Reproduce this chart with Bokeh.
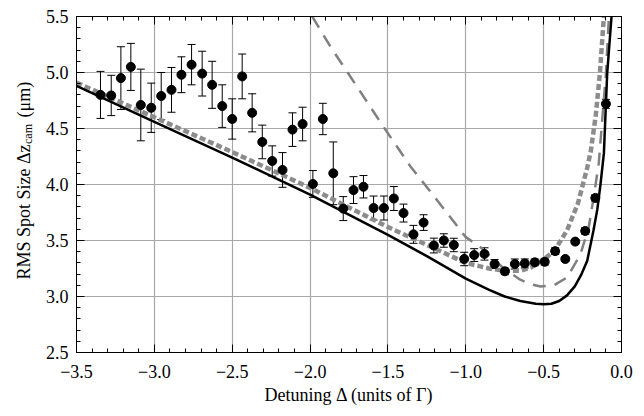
import numpy as np
from bokeh.plotting import figure
from bokeh.models import (ColumnDataSource, Whisker, TeeHead, LinearAxis, FixedTicker,
                          CustomJSTickFormatter, Label)
from bokeh.embed import file_html
from bokeh.resources import INLINE

# ---------------- data ----------------
det = [-3.346, -3.277, -3.215, -3.151, -3.087, -3.020, -2.956, -2.890, -2.826, -2.761,
       -2.693, -2.629, -2.564, -2.500, -2.436, -2.372, -2.307, -2.243, -2.177, -2.113,
       -2.048, -1.982, -1.918, -1.851, -1.787, -1.721, -1.657, -1.592, -1.526, -1.462,
       -1.400, -1.336, -1.271, -1.205, -1.141, -1.077, -1.010, -0.946, -0.880, -0.815,
       -0.749, -0.685, -0.621, -0.557, -0.493, -0.426, -0.361, -0.297, -0.233, -0.168,
       -0.100]
spot = [4.80, 4.795, 4.95, 5.05, 4.71, 4.685, 4.79, 4.845, 4.98, 5.07,
        4.99, 4.89, 4.70, 4.585, 4.965, 4.64, 4.38, 4.21, 4.13, 4.49,
        4.54, 4.005, 4.585, 4.10, 3.785, 3.95, 3.98, 3.79, 3.79, 3.875,
        3.745, 3.555, 3.66, 3.455, 3.50, 3.46, 3.335, 3.37, 3.38, 3.29,
        3.225, 3.29, 3.295, 3.305, 3.31, 3.405, 3.335, 3.49, 3.585, 3.88,
        4.72]
spot_err = [0.21, 0.18, 0.28, 0.21, 0.32, 0.22, 0.21, 0.20, 0.16, 0.18,
            0.20, 0.21, 0.19, 0.18, 0.20, 0.17, 0.15, 0.135, 0.155, 0.15,
            0.15, 0.12, 0.14, 0.28, 0.107, 0.12, 0.10, 0.107, 0.107, 0.107,
            0.08, 0.08, 0.07, 0.066, 0.06, 0.06, 0.06, 0.057, 0.055, 0.04,
            0.03, 0.045, 0.04, 0.03, 0.03, 0.03, 0.02, 0.02, 0.03, 0.03,
            0.04]

# solid black theory curve
solid_x = [-3.5, -3.0, -2.5, -2.0, -1.5, -1.25, -1.0, -0.85, -0.75, -0.65, -0.55, -0.5,
           -0.45, -0.4, -0.35, -0.3, -0.26, -0.22, -0.18, -0.155, -0.135, -0.113, -0.092,
           -0.064]
solid_y = [4.88, 4.56, 4.24, 3.91, 3.55, 3.36, 3.16, 3.06, 3.00, 2.96, 2.935, 2.93,
           2.935, 2.96, 3.01, 3.09, 3.19, 3.32, 3.59, 3.78, 4.00, 4.28, 4.99,
           5.50]

# gray dotted curve
dot_x = [-3.5, -3.0, -2.5, -2.0, -1.5, -1.25, -1.0, -0.85, -0.75, -0.65, -0.58, -0.5,
         -0.43, -0.35, -0.28, -0.22, -0.197, -0.165, -0.139, -0.113]
dot_y = [4.91, 4.60, 4.29, 3.97, 3.62, 3.46, 3.30, 3.25, 3.23, 3.23, 3.26, 3.33,
         3.41, 3.59, 3.83, 4.15, 4.30, 4.62, 4.99, 5.50]

# gray long-dashed curve
dash_x = [-1.986, -1.869, -1.697, -1.526, -1.355, -1.184, -1.0, -0.905, -0.756, -0.65,
          -0.584, -0.52, -0.434, -0.349, -0.263, -0.21, -0.178, -0.146, -0.1, -0.081]
dash_y = [5.50, 5.23, 4.87, 4.51, 4.16, 3.86, 3.53, 3.44, 3.25, 3.15,
          3.11, 3.09, 3.10, 3.17, 3.38, 3.62, 3.89, 4.19, 4.99, 5.50]

x_ticks = [-3.5, -3.0, -2.5, -2.0, -1.5, -1.0, -0.5, 0.0]
y_ticks = [2.5, 3.0, 3.5, 4.0, 4.5, 5.0, 5.5]
x_title = "Detuning \u0394 (units of \u0393)"
y_title_main = "RMS Spot Size \u0394z" + "\u00a0" * 6 + "(\u03bcm)"
y_title_sub = "cam"

# ---------------- figure ----------------
FONT = "Liberation Serif"
XMIN, XMAX, YMIN, YMAX = -3.5, 0.0, 2.5, 5.5
FW, FH = 545, 336
p = figure(frame_width=FW, frame_height=FH, x_range=(XMIN, XMAX), y_range=(YMIN, YMAX),
           output_backend="svg", toolbar_location=None,
           min_border_left=76, min_border_right=12, min_border_top=16, min_border_bottom=58)
p.outline_line_color = "black"
p.background_fill_color = "white"
p.border_fill_color = "white"

bottom_ax = p.below[0]
left_ax = p.left[0]

x_minor = [round(-3.5 + 0.1 * i, 2) for i in range(36)]
y_minor = [round(2.5 + 0.1 * i, 2) for i in range(31)]
xt = FixedTicker(ticks=x_ticks, minor_ticks=x_minor)
yt = FixedTicker(ticks=y_ticks, minor_ticks=y_minor)
fmt = CustomJSTickFormatter(code="return tick.toFixed(1).replace('-', '\u2212');")
blank = CustomJSTickFormatter(code="return '';")

bottom_ax.ticker = xt
left_ax.ticker = yt
bottom_ax.formatter = fmt
left_ax.formatter = fmt
p.xgrid.ticker = xt
p.ygrid.ticker = yt
for g in (p.xgrid, p.ygrid):
    g.grid_line_color = "#a8a8a8"
    g.grid_line_width = 1.2

top_ax = LinearAxis(ticker=xt, formatter=blank)
right_ax = LinearAxis(ticker=yt, formatter=blank)
p.add_layout(top_ax, "above")
p.add_layout(right_ax, "right")

for ax in [bottom_ax, left_ax, top_ax, right_ax]:
    ax.axis_line_color = "black"
    ax.major_tick_line_color = "black"
    ax.minor_tick_line_color = "black"
    ax.major_tick_in = 8
    ax.major_tick_out = 0
    ax.minor_tick_in = 4
    ax.minor_tick_out = 0
    ax.major_label_text_font = FONT
    ax.major_label_text_font_size = "18px"
    ax.major_label_text_color = "black"
    ax.axis_label_text_font = FONT
    ax.axis_label_text_font_size = "18px"
    ax.axis_label_text_font_style = "normal"
    ax.axis_label_text_color = "black"

for ax in [top_ax, right_ax]:
    ax.major_label_standoff = 0

bottom_ax.axis_label = x_title
bottom_ax.major_label_standoff = 12
bottom_ax.axis_label_standoff = 4
left_ax.major_label_standoff = 8

# curves
p.line(dash_x, dash_y, line_color="#808080", line_width=2.5, line_dash="13 9")
p.line(dot_x, dot_y, line_color="#8c8c8c", line_width=4.5, line_dash="6 3")
p.line(solid_x, solid_y, line_color="black", line_width=2.5)

# data with error bars
lo = [v - e for v, e in zip(spot, spot_err)]
hi = [v + e for v, e in zip(spot, spot_err)]
src = ColumnDataSource(dict(x=det, y=spot, lower=lo, upper=hi))
wh = Whisker(base="x", upper="upper", lower="lower", source=src,
             line_color="black", line_width=1,
             upper_head=TeeHead(size=8, line_color="black", line_width=1),
             lower_head=TeeHead(size=8, line_color="black", line_width=1))
p.add_layout(wh)
p.scatter("x", "y", source=src, size=9, color="black")

# y-axis title: main text plus subscript "cam", placed in the left margin
px_per_x = FW / (XMAX - XMIN)
px_per_y = FH / (YMAX - YMIN)
start = 73.0      # px above the frame bottom where the title starts
main_w = 135.0    # width of "RMS Spot Size Δz" at 18px
p.add_layout(Label(x=XMIN - 53 / px_per_x, y=YMIN + start / px_per_y,
                   text=y_title_main, angle=np.pi / 2, text_align="left",
                   text_baseline="alphabetic", text_font=FONT, text_font_size="18px",
                   text_color="black"), "left")
p.add_layout(Label(x=XMIN - 49 / px_per_x, y=YMIN + (start + main_w + 0.5) / px_per_y,
                   text=y_title_sub, angle=np.pi / 2, text_align="left",
                   text_baseline="alphabetic", text_font=FONT, text_font_size="12px",
                   text_color="black"), "left")

open("out.html", "w").write(file_html(p, INLINE))
